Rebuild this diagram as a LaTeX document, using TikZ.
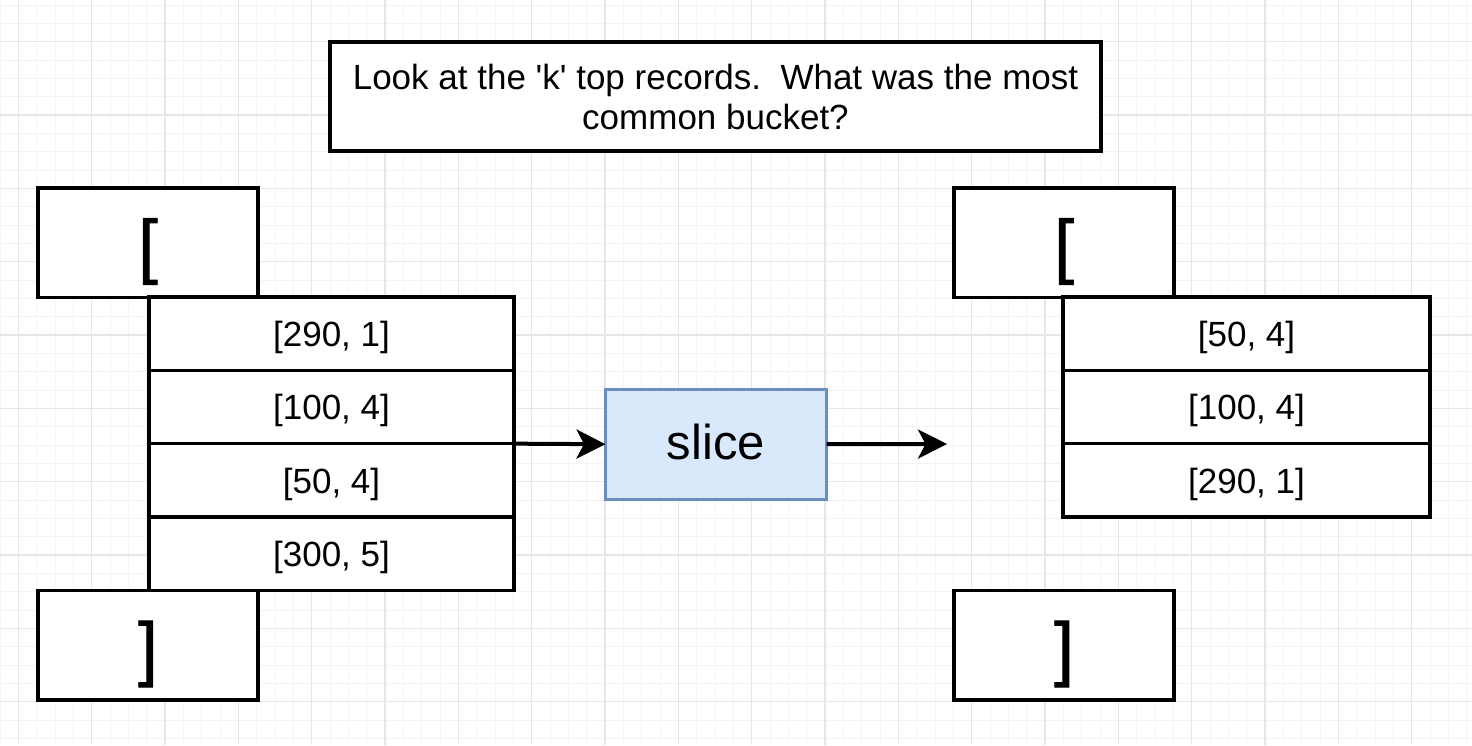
\documentclass[tikz,border=0pt]{standalone}
\usepackage{fontspec}
\newfontfamily\hel{Liberation Sans}
\newfontfamily\helbr{Liberation Sans}[FakeBold=1.2]
\usetikzlibrary{arrows.meta}
\definecolor{gridminor}{HTML}{F4F4F4}
\definecolor{gridmajor}{HTML}{E6E6E6}
\definecolor{slicefill}{HTML}{DAE8FC}
\definecolor{slicedraw}{HTML}{6C8EBF}
\tikzset{
  box/.style={draw=black, line width=3.6pt, fill=white, inner sep=0pt, outer sep=0pt, anchor=north west},
  brackettext/.style={font=\helbr\fontsize{71}{71}\selectfont, text height=58pt, text depth=3.8pt},
  recordtext/.style={font=\hel\fontsize{35}{40}\selectfont, text height=27pt, text depth=1.5pt},
  bracketbox/.style={box, brackettext, minimum width=220pt, minimum height=109.5pt},
  rowbox/.style={box, recordtext, minimum height=73.33pt},
  slicebox/.style={draw=slicedraw, fill=slicefill, line width=2.8pt, inner sep=0pt, outer sep=0pt, anchor=north west,
     minimum width=221pt, minimum height=110pt, font=\hel\fontsize{49}{49}\selectfont, text height=29.6pt, text depth=0pt},
  titlebox/.style={box, align=center, font=\hel\fontsize{35}{40}\selectfont, minimum width=771pt, minimum height=109pt},
  conn/.style={line width=4pt, -{Stealth[length=29pt, width=29pt, inset=7.5pt]}}
}
\begin{document}
\begin{tikzpicture}[x=1pt, y=-1pt]
\useasboundingbox (0,0) rectangle (1472,745);
\fill[white] (0,0) rectangle (1472,745);
% grid
\foreach \k in {0,...,81} {
  \draw[gridminor, line width=1pt] ({0.07+18.333*\k},0) -- ({0.07+18.333*\k},745);
}
\foreach \k in {0,...,41} {
  \draw[gridminor, line width=1pt] (0,{5.03+18.333*\k}) -- (1472,{5.03+18.333*\k});
}
\foreach \k in {0,...,20} {
  \draw[gridmajor, line width=1.4pt] ({18.4+73.333*\k},0) -- ({18.4+73.333*\k},745);
}
\foreach \k in {0,...,10} {
  \draw[gridmajor, line width=1.4pt] (0,{41.7+73.333*\k}) -- (1472,{41.7+73.333*\k});
}

% title
\node[titlebox] (title) at (330,42) {Look at the 'k' top records.\ \ What was the most\\common bucket?};

% left column
\node[bracketbox] (lt) at (38,188) {[};
\node[rowbox, minimum width=365pt] (l1) at (149,297) {[290, 1]};
\node[rowbox, minimum width=365pt] (l2) at (149,370.33) {[100, 4]};
\node[rowbox, minimum width=365pt] (l3) at (149,443.67) {[50, 4]};
\node[rowbox, minimum width=365pt] (l4) at (149,517) {[300, 5]};
\node[bracketbox] (lb) at (38,590.5) {]};

% slice
\node[slicebox] (slice) at (605.5,389.2) {slice};

% right column
\node[bracketbox] (rt) at (954,188) {[};
\node[rowbox, minimum width=367pt] (r1) at (1063,297) {[50, 4]};
\node[rowbox, minimum width=367pt] (r2) at (1063,370.33) {[100, 4]};
\node[rowbox, minimum width=367pt] (r3) at (1063,443.67) {[290, 1]};
\node[bracketbox] (rb) at (954,590.5) {]};

% connectors
\coordinate (outend) at (947,444);
\draw[conn] (l2.south east) -- (slice.west);
\draw[conn] (slice.east) -- (outend);
\end{tikzpicture}
\end{document}
